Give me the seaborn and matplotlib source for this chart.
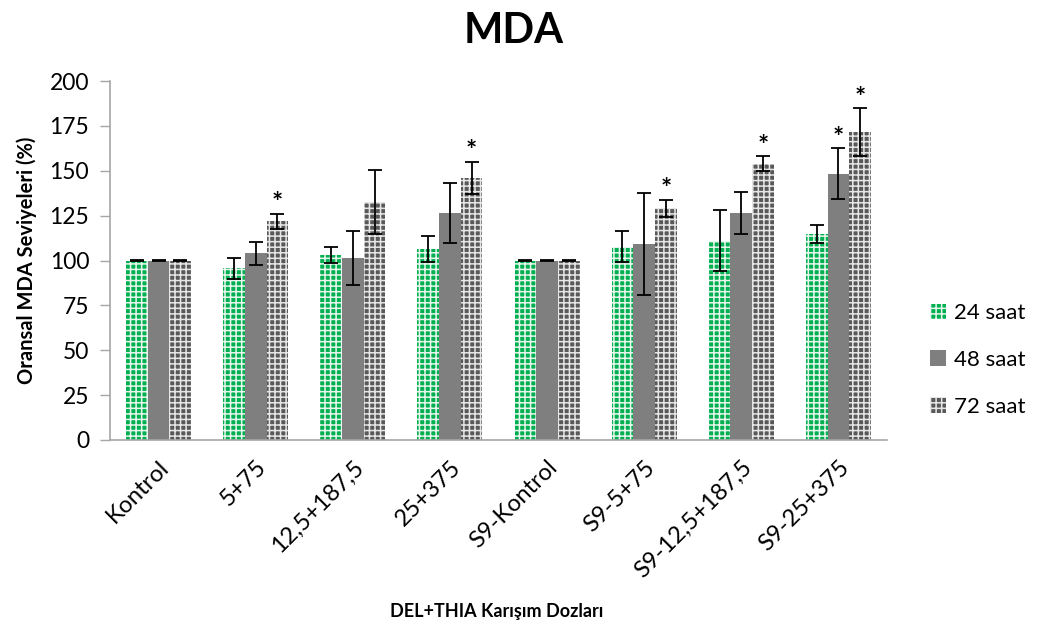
import matplotlib
matplotlib.use("Agg")
import matplotlib.pyplot as plt
import seaborn as sns
import pandas as pd
import numpy as np

categories = ["Kontrol", "5+75", "12,5+187,5", "25+375", "S9-Kontrol",
              "S9-5+75", "S9-12,5+187,5", "S9-25+375"]
series_names = ["24 saat", "48 saat", "72 saat"]
vals_24 = [100, 95.7, 103.0, 106.2, 100, 107.7, 110.9, 114.8]
vals_48 = [100, 104.0, 101.2, 126.5, 100, 109.0, 126.3, 148.4]
vals_72 = [100, 121.8, 132.4, 146.1, 100, 129.0, 154.0, 171.4]
err_24 = [0.5, 5.8, 4.6, 7.2, 0.4, 8.5, 17.0, 5.0]
err_48 = [0.5, 6.4, 15.0, 16.7, 0.4, 28.4, 11.7, 14.0]
err_72 = [0.5, 4.3, 17.8, 9.0, 0.4, 4.7, 4.0, 13.3]
sig_24 = [0, 0, 0, 0, 0, 0, 0, 0]
sig_48 = [0, 0, 0, 0, 0, 0, 0, 1]
sig_72 = [0, 1, 0, 1, 0, 1, 1, 1]
y_ticks = [0, 25, 50, 75, 100, 125, 150, 175, 200]

sns.set_theme(style="white")
plt.rcParams['font.family'] = ['Lato', 'DejaVu Sans']
plt.rcParams['hatch.linewidth'] = 1.1
plt.rcParams['text.color'] = 'black'
plt.rcParams['axes.labelcolor'] = 'black'
plt.rcParams['xtick.color'] = 'black'
plt.rcParams['ytick.color'] = 'black'

df = pd.DataFrame({
    "dose": categories * 3,
    "time": [series_names[0]] * 8 + [series_names[1]] * 8 + [series_names[2]] * 8,
    "value": vals_24 + vals_48 + vals_72,
})
errs = [err_24, err_48, err_72]
sigs = [sig_24, sig_48, sig_72]

colors = ["#00B050", "#7F7F7F", "#595959"]
hatches = ["+++", None, "+++"]

fig = plt.figure(figsize=(10.4, 6.35), dpi=100)
ax = fig.add_axes([110/1040, 1 - 440/635, (887 - 110)/1040, (440 - 81)/635])

sns.barplot(data=df, x="dose", y="value", hue="time", palette=colors,
            width=0.67, gap=0, errorbar=None, saturation=1, legend=False, ax=ax)

bar_conts = list(ax.containers)
for ci, cont in enumerate(bar_conts):
    xs = []
    hs = []
    for p in cont.patches:
        if hatches[ci]:
            p.set_hatch(hatches[ci])
            p.set_edgecolor("#E8F5EC" if ci == 0 else "#E6E6E6")
            p.set_linewidth(0)
        else:
            p.set_edgecolor(colors[ci])
            p.set_linewidth(0)
        xs.append(p.get_x() + p.get_width() / 2)
        hs.append(p.get_height())
    ax.errorbar(xs, hs, yerr=errs[ci], fmt="none", ecolor="black",
                elinewidth=1.3, capsize=5, capthick=1.3, zorder=5)
    for x, h, e, s in zip(xs, hs, errs[ci], sigs[ci]):
        if s:
            ax.annotate("*", (x, h + e), xytext=(0, -1), textcoords="offset points",
                        ha="center", va="bottom", fontsize=19, fontweight="bold")

ax.set_ylim(0, 200)
ax.set_yticks(y_ticks)
ax.set_yticklabels([str(t) for t in y_ticks], fontsize=16.5)
ax.set_xlim(-0.5, len(categories) - 0.5)
ax.set_xticks(range(len(categories)))
ax.set_xticklabels(categories, rotation=45, ha="right", rotation_mode="anchor",
                   fontsize=17)
ax.tick_params(axis="x", length=0, pad=12)
ax.tick_params(axis="y", length=7, width=1, color="#A6A6A6", left=True, direction="out", pad=8)
for side in ["top", "right"]:
    ax.spines[side].set_visible(False)
for side in ["left", "bottom"]:
    ax.spines[side].set_color("#A6A6A6")
    ax.spines[side].set_linewidth(1.2)

ax.set_ylabel("Oransal MDA Seviyeleri (%)", fontsize=14.5, fontweight="bold", labelpad=9)
ax.set_xlabel("")
fig.text(497/1040, 1 - 612/635, "DEL+THIA Karışım Dozları", ha="center", va="center",
         fontsize=13, fontweight="bold")
fig.text(514/1040, 1 - 31/635, "MDA", ha="center", va="center",
         fontsize=30, fontweight="bold")

leg = ax.legend(bar_conts, series_names, loc="center left",
                bbox_to_anchor=(910/1040, 1 - 360/635), bbox_transform=fig.transFigure,
                frameon=False, fontsize=16, handlelength=0.7, handleheight=0.7,
                handletextpad=0.4, labelspacing=1.2)

fig.savefig("out.png", dpi=100)
